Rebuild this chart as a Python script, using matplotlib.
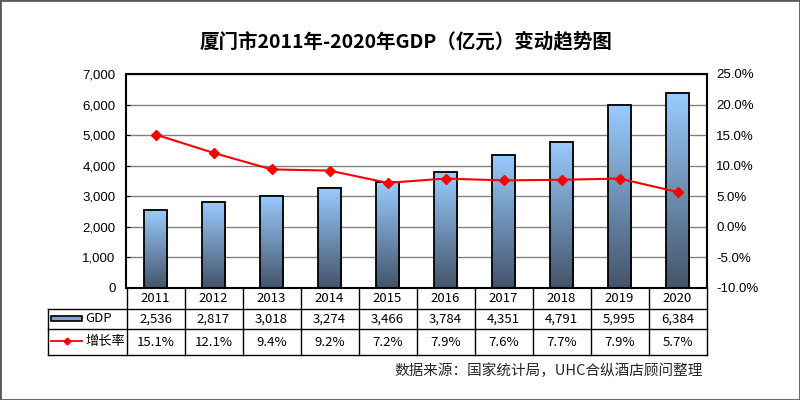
import numpy as np
import matplotlib
matplotlib.use('Agg')
import matplotlib.pyplot as plt
from matplotlib import transforms
from matplotlib.colors import LinearSegmentedColormap
from matplotlib.patches import Rectangle
from matplotlib.lines import Line2D
from matplotlib.ticker import FuncFormatter, MultipleLocator

# 数据
years = ['2011', '2012', '2013', '2014', '2015', '2016', '2017', '2018', '2019', '2020']
gdp = [2536, 2817, 3018, 3274, 3466, 3784, 4351, 4791, 5995, 6384]
rate = [15.1, 12.1, 9.4, 9.2, 7.2, 7.9, 7.6, 7.7, 7.9, 5.7]
row_labels = ['GDP', '增长率']
title = '厦门市2011年-2020年GDP（亿元）变动趋势图'
source = '数据来源：国家统计局，UHC合纵酒店顾问整理'

plt.rcParams['font.family'] = ['Noto Sans CJK SC', 'DejaVu Sans']

W, H = 800, 400


def box(x0, y0, x1, y1):
    """像素坐标 -> add_axes 的 [left, bottom, width, height]"""
    return [x0 / W, 1 - y1 / H, (x1 - x0) / W, (y1 - y0) / H]


def fy(y):
    return 1 - y / H


fig = plt.figure(figsize=(8, 4), dpi=100)
ax = fig.add_axes(box(126.5, 74, 706.5, 288))

x = np.arange(len(years))
w = 0.41
cmap = LinearSegmentedColormap.from_list('bar', ['#44546a', '#99ccff'])
grad = np.linspace(0, 1, 256).reshape(-1, 1)
for xi, v in zip(x, gdp):
    ax.imshow(grad, cmap=cmap, origin='lower', aspect='auto',
              extent=[xi - w / 2, xi + w / 2, 0, v], zorder=2)
ax.bar(x, gdp, width=w, facecolor='none', edgecolor='black', linewidth=1.3, zorder=3)

ax.set_xlim(-0.5, len(years) - 0.5)
ax.set_ylim(0, 7000)
ax.yaxis.set_major_locator(MultipleLocator(1000))
ax.yaxis.set_major_formatter(FuncFormatter(lambda v, p: f'{v:,.0f}'))
ax.grid(axis='y', color='#808080', lw=1)
ax.set_axisbelow(True)
ax.set_xticks([])
ax.tick_params(axis='y', direction='in', length=3, labelsize=9.5, pad=8)
for s in ax.spines.values():
    s.set_linewidth(1.5)
    s.set_color('black')

ax2 = ax.twinx()
ax2.plot(x, rate, color='#ff0000', lw=1.5, marker='D', ms=5, zorder=4)
ax2.set_ylim(-10, 25)
ax2.yaxis.set_major_locator(MultipleLocator(5))
ax2.yaxis.set_major_formatter(FuncFormatter(lambda v, p: f'{v:.1f}%'))
ax2.tick_params(axis='y', length=0, labelsize=9.5, pad=7)
for s in ax2.spines.values():
    s.set_visible(False)

for lab in ax.get_yticklabels() + ax2.get_yticklabels():
    lab.set_fontfamily('Liberation Sans')

# 数据表
bt = transforms.blended_transform_factory(ax.transData, fig.transFigure)
y_top, y1, y2, y_bot = fy(288), fy(308.5), fy(329), fy(355)
x_left = 47.5 / W
x_right = 706.5 / W
lc = dict(color='black', lw=1)

for yy in (y1, y2, y_bot):
    fig.add_artist(Line2D([x_left, x_right], [yy, yy], transform=fig.transFigure, **lc))
fig.add_artist(Line2D([x_left, x_left], [y1, y_bot], transform=fig.transFigure, **lc))
for k in range(len(years) + 1):
    fig.add_artist(Line2D([k - 0.5, k - 0.5], [y_top, y_bot], transform=bt, **lc))

fs = 9.5
for xi, yr, g, r in zip(x, years, gdp, rate):
    fig.text(xi, (y_top + y1) / 2, yr, transform=bt, ha='center', va='center', fontsize=fs)
    fig.text(xi, (y1 + y2) / 2, f'{g:,}', transform=bt, ha='center', va='center', fontsize=fs)
    fig.text(xi, (y2 + y_bot) / 2, f'{r:.1f}%', transform=bt, ha='center', va='center', fontsize=fs)

# 图例
fig.add_artist(Rectangle((51 / W, fy(320.5)), 31 / W, 5 / H, transform=fig.transFigure,
                         facecolor='#7fa3cc', edgecolor='black', lw=1.2))
fig.add_artist(Line2D([51 / W, 82 / W], [fy(341), fy(341)], transform=fig.transFigure,
                      color='#ff0000', lw=1.3))
fig.add_artist(Line2D([66.5 / W], [fy(341)], transform=fig.transFigure,
                      color='#ff0000', marker='D', ms=3.5))
fig.text(85 / W, (y1 + y2) / 2, row_labels[0], ha='left', va='center', fontsize=9.5)
fig.text(85 / W, (y2 + y_bot) / 2, row_labels[1], ha='left', va='center', fontsize=9.5)

fig.text(405.5 / W, fy(41.7), title, ha='center', va='center', fontsize=14, fontweight='bold')
fig.text(703 / W, fy(371), source, ha='right', va='center', fontsize=10.5, color='#262626')

fig.add_artist(Rectangle((0, 0), 1, 1, transform=fig.transFigure, fill=False,
                         edgecolor='#595959', lw=2))

fig.savefig('out.png', dpi=100)
